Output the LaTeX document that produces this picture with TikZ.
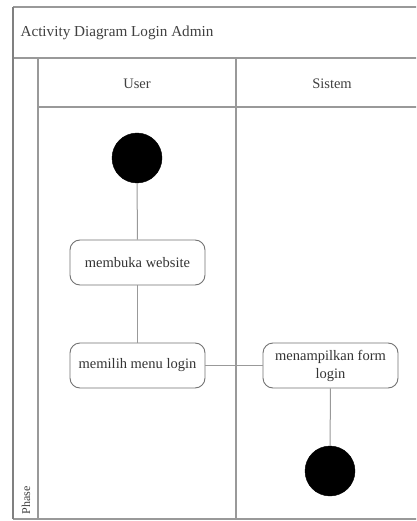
\documentclass[tikz,border=0pt]{standalone}
\usepackage{fontspec}
\setmainfont{Liberation Serif}
\begin{document}
\begin{tikzpicture}[x=1pt,y=-1pt,
  frameline/.style={draw=black!40,line width=1.2pt},
  lanetext/.style={font=\fontsize{14.5}{17}\selectfont,text=black!75},
  action/.style={draw=black!55,line width=0.9pt,rounded corners=10pt,fill=white,
    minimum width=135pt,minimum height=45pt,align=center,inner sep=2pt,
    font=\fontsize{14.5}{18}\selectfont,text=black!80},
  blob/.style={circle,fill=black,draw=black,minimum size=50pt,inner sep=0pt},
  flow/.style={draw=black!40,line width=1pt}]
  \useasboundingbox (0,0) rectangle (416,521);
  \fill[white] (0,0) rectangle (416,521);
  \clip (0,0) rectangle (416,521);

  % pool frame, title row and lane headers
  \draw[frameline] (13,7) -- (430,7);
  \draw[frameline] (13,58) -- (430,58);
  \draw[frameline] (38,107) -- (430,107);
  \draw[frameline] (13,519) -- (430,519);
  \draw[draw=black!50,line width=2pt] (13,7) -- (13,519);
  \draw[frameline] (38,58) -- (38,519);
  \draw[frameline] (236,58) -- (236,519);

  \node[font=\fontsize{15.2}{17}\selectfont,text=black!75,anchor=west] (title) at (17,33) {Activity Diagram Login Admin};
  \node[lanetext] (laneuser) at (137,84) {User};
  \node[lanetext] (lanesys) at (332,84) {Sistem};
  \node[font=\fontsize{12}{14}\selectfont,text=black!75,rotate=90,anchor=west] (phase) at (26,518) {Phase};

  % activities
  \node[blob] (start) at (137,158) {};
  \node[action] (open) at (137.5,262.5) {membuka website};
  \node[action] (choose) at (137.5,365.5) {memilih menu login};
  \node[action] (show) at (330.5,365.5) {menampilkan form\\login};
  \node[blob] (stop) at (330,471) {};

  % flows
  \draw[flow] (start) -- (open);
  \draw[flow] (open) -- (choose);
  \draw[flow] (choose) -- (show);
  \draw[flow] (show) -- (stop);
\end{tikzpicture}
\end{document}
